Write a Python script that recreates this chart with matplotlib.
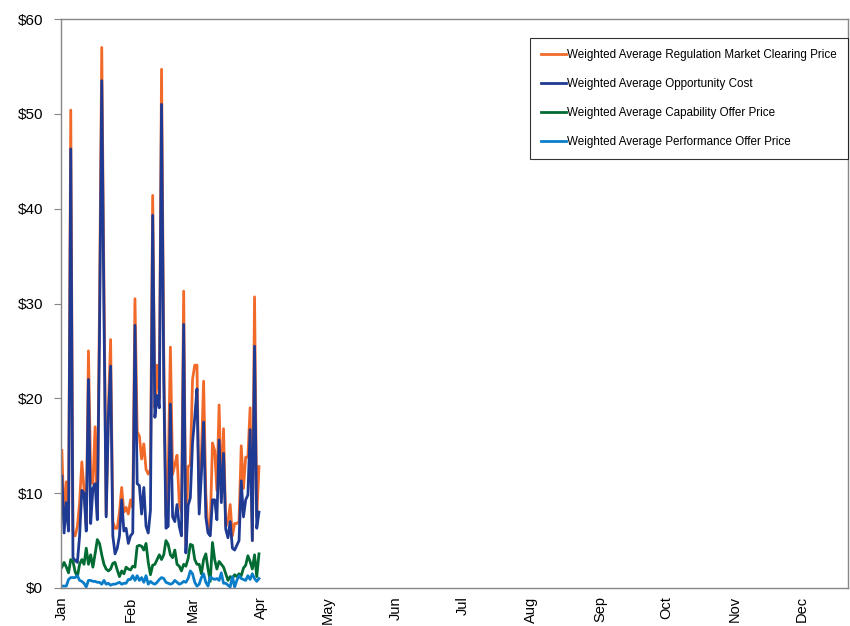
import matplotlib
matplotlib.use("Agg")
import matplotlib.pyplot as plt
import numpy as np

plt.rcParams['font.family'] = ['Liberation Sans', 'DejaVu Sans']

# Daily values, Jan 1 - Mar 31
rmcp = [14.5, 7.0, 11.2, 6.3, 50.4, 6.0, 5.5, 6.5, 9.0, 13.3,
        10.5, 6.5, 25.0, 12.0, 11.0, 17.0, 7.5, 30.0, 57.0, 32.0,
        7.7, 19.0, 26.2, 7.0, 6.3, 6.3, 8.0, 10.6, 8.0, 8.5,
        7.8, 9.3, 8.5, 30.5, 16.5, 16.0, 13.6, 15.2, 12.5, 12.0,
        12.5, 41.4, 19.0, 23.5, 20.0, 54.7, 25.0, 7.5, 12.0, 25.4,
        12.0, 13.0, 14.0, 9.0, 8.0, 31.3, 4.5, 12.8, 13.0, 22.0,
        23.5, 23.5, 8.6, 14.0, 21.8, 10.0, 6.0, 6.5, 15.3, 14.5,
        10.3, 19.3, 9.5, 16.8, 6.5, 7.0, 8.8, 5.5, 6.8, 6.8,
        7.0, 15.0, 10.5, 13.8, 13.8, 19.0, 5.0, 30.7, 7.5, 12.8]
opp_cost = [11.8, 5.8, 9.0, 6.0, 46.3, 3.2, 2.9, 2.7, 5.5, 10.3,
            10.0, 6.0, 22.0, 6.8, 10.5, 11.0, 7.2, 27.0, 53.5, 29.0,
            7.5, 18.0, 23.4, 5.5, 3.6, 4.2, 5.5, 9.3, 6.0, 6.3,
            4.7, 5.5, 5.8, 27.7, 11.0, 10.8, 7.8, 10.6, 6.5, 5.8,
            8.2, 39.3, 18.0, 20.3, 19.0, 51.0, 22.0, 6.3, 6.5, 19.4,
            7.5, 7.0, 8.8, 6.5, 5.5, 27.8, 3.7, 8.7, 9.5, 15.3,
            18.0, 21.0, 7.8, 12.0, 17.5, 7.5, 5.8, 5.5, 9.3, 9.3,
            7.2, 15.6, 9.0, 14.2, 6.2, 5.3, 7.0, 4.2, 4.0, 4.5,
            5.0, 11.3, 7.5, 9.3, 9.8, 16.7, 5.0, 25.5, 6.3, 8.0]
capability = [2.2, 2.7, 2.2, 1.6, 3.0, 2.8, 1.7, 1.2, 2.5, 3.0,
              2.5, 4.2, 2.5, 3.5, 2.2, 3.6, 5.1, 4.7, 3.5, 2.5,
              2.0, 1.8, 2.0, 2.6, 2.7, 1.9, 1.2, 1.8, 1.5, 2.2,
              2.0, 1.9, 2.3, 2.2, 4.4, 4.5, 4.4, 4.0, 4.7, 2.7,
              1.4, 2.4, 2.5, 3.0, 3.5, 3.0, 3.5, 5.0, 4.6, 3.5,
              3.2, 4.0, 2.5, 2.3, 1.8, 2.5, 2.3, 3.1, 4.6, 4.5,
              3.0, 2.5, 2.5, 1.5, 3.0, 3.6, 2.0, 0.7, 4.8, 3.0,
              2.0, 2.8, 2.5, 2.2, 1.5, 0.8, 1.2, 1.0, 1.4, 1.2,
              1.5, 1.3, 2.1, 2.4, 3.4, 2.8, 2.0, 3.5, 1.2, 3.6]
performance = [0.2, 0.2, 0.2, 0.9, 1.1, 1.1, 1.1, 1.3, 0.8, 0.7,
               0.5, 0.1, 0.8, 0.8, 0.7, 0.7, 0.6, 0.6, 0.4, 0.8,
               0.4, 0.5, 0.3, 0.4, 0.4, 0.5, 0.6, 0.4, 0.5, 0.5,
               0.9, 0.9, 1.3, 0.8, 1.3, 0.8, 1.1, 0.6, 1.3, 0.4,
               0.7, 0.5, 0.4, 0.6, 0.9, 1.1, 1.0, 0.6, 0.5, 0.4,
               0.5, 0.8, 0.6, 0.4, 0.5, 0.7, 0.6, 1.0, 1.8, 1.5,
               0.6, 0.2, 0.4, 1.1, 1.5, 0.6, 0.2, 1.2, 1.0, 0.9,
               1.0, 0.8, 1.6, 0.5, 0.5, 0.3, 0.1, 1.2, 0.1, 0.8,
               1.3, 1.0, 0.9, 0.8, 1.3, 0.9, 1.5, 1.0, 0.7, 1.0]

series_labels = ["Weighted Average Regulation Market Clearing Price",
                 "Weighted Average Opportunity Cost",
                 "Weighted Average Capability Offer Price",
                 "Weighted Average Performance Offer Price"]
month_labels = ["Jan", "Feb", "Mar", "Apr", "May", "Jun",
                "Jul", "Aug", "Sep", "Oct", "Nov", "Dec"]
month_start_days = [0, 31, 59, 90, 120, 151, 181, 212, 243, 273, 304, 334]
y_ticks = [0, 10, 20, 30, 40, 50, 60]

colors = ["#F26A2A", "#1F3A93", "#006B33", "#0A7DC9"]

days = np.arange(len(rmcp))

fig = plt.figure(figsize=(8.5, 6.26), dpi=100)
ax = fig.add_axes([61/850, 1-588/626, (848-61)/850, (588-19)/626])

for vals, lab, c in zip([rmcp, opp_cost, capability, performance], series_labels, colors):
    ax.plot(days, vals, color=c, lw=2.0, label=lab, solid_joinstyle='round')

ax.set_xlim(-0.4, 355)
ax.set_ylim(0, 60)
ax.set_yticks(y_ticks)
ax.set_yticklabels([f"${v}" for v in y_ticks], fontsize=11)
ax.set_xticks(month_start_days)
ax.set_xticklabels(month_labels, rotation=90, fontsize=10.5)
ax.tick_params(axis='y', direction='out', length=5, color='#868686', pad=8)
ax.tick_params(axis='x', direction='out', length=0, pad=6)
for s in ax.spines.values():
    s.set_color('#868686')
    s.set_linewidth(1.0)

leg = ax.legend(loc='upper left', bbox_to_anchor=(530/850, 1-38/626),
                bbox_transform=fig.transFigure, fontsize=8.4, frameon=True,
                fancybox=False, edgecolor='black', handlelength=2.1,
                handletextpad=0.1, labelspacing=1.45, borderpad=0.95,
                borderaxespad=0)
leg.get_frame().set_linewidth(0.8)

fig.savefig("out.png", dpi=100)
